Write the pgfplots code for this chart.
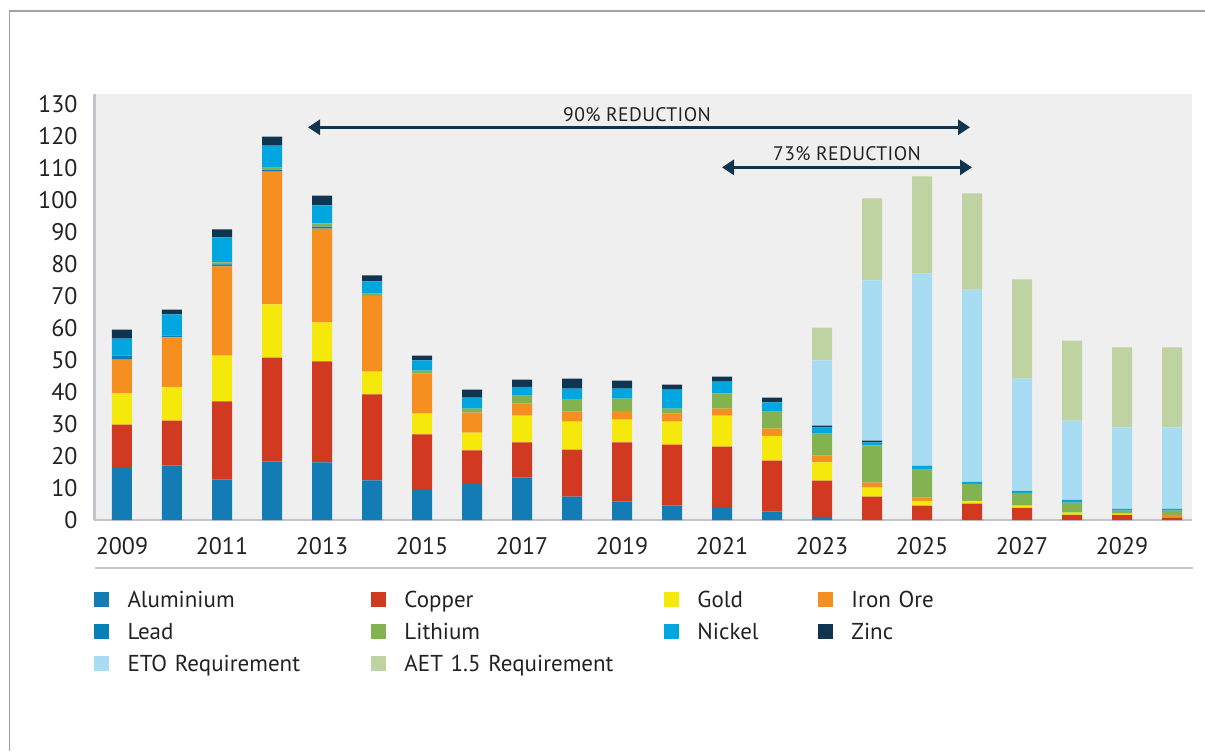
\documentclass[border=0pt]{standalone}
\usepackage{pgfplots}
\pgfplotsset{compat=1.18}
\usepackage{pgfplotstable}
\usetikzlibrary{arrows.meta}
\usepackage{fontspec}
\setmainfont{PT Sans}

\definecolor{alc}{HTML}{137CB4}
\definecolor{cuc}{HTML}{D13A20}
\definecolor{auc}{HTML}{F5E90B}
\definecolor{fec}{HTML}{F58F1F}
\definecolor{pbc}{HTML}{0681B8}
\definecolor{lic}{HTML}{83B350}
\definecolor{nic}{HTML}{00A6E0}
\definecolor{znc}{HTML}{0F3550}
\definecolor{etoc}{HTML}{A8DCF3}
\definecolor{aetc}{HTML}{BFD3A2}
\definecolor{bgc}{HTML}{EFEFEF}
\definecolor{axc}{HTML}{C3C3CE}
\definecolor{framec}{HTML}{A0A0A0}
\definecolor{textc}{HTML}{222222}
\definecolor{arrc}{HTML}{0F3550}

\pgfplotstableread{
year al cu au fe pb li ni zn eto aet
2009 16.3 13.5 9.7 10.6 1.2 0 5.3 2.8 0 0
2010 17.0 14.0 10.6 15.4 0.6 0 6.6 1.5 0 0
2011 12.6 24.4 14.3 27.9 0.6 0.6 7.8 2.5 0 0
2012 18.2 32.5 16.6 41.5 0.6 0.6 6.9 2.8 0 0
2013 18.0 31.5 12.2 29.3 0.6 1.0 5.6 3.1 0 0
2014 12.4 26.8 7.1 23.6 0 0.8 3.8 1.9 0 0
2015 9.3 17.4 6.5 12.5 0 0.9 3.2 1.5 0 0
2016 11.3 10.4 5.6 6.2 0 1.3 3.4 2.5 0 0
2017 13.2 11.0 8.4 3.7 0 2.5 2.8 2.2 0 0
2018 7.3 14.7 8.7 3.1 0 3.8 3.4 3.1 0 0
2019 5.7 18.5 7.1 2.8 0 3.8 3.1 2.5 0 0
2020 4.5 19.0 7.2 2.5 0 1.6 5.9 1.6 0 0
2021 3.8 19.1 9.7 2.2 0 4.7 3.7 1.6 0 0
2022 2.6 15.9 7.8 2.2 0 5.3 2.9 1.5 0 0
2023 1.0 11.3 5.7 2.2 0 6.8 1.9 0.6 20.3 10.3
2024 0 7.3 2.8 1.6 0 11.6 0.9 0.6 50.0 25.6
2025 0 4.5 1.5 1.0 0 8.7 1.3 0 60.0 30.3
2026 0 5.1 0.9 0 0 5.3 0.6 0 60.0 30.1
2027 0 3.8 0.7 0 0 4.0 0.6 0 35.0 31.0
2028 0 1.6 0.7 0 0 3.1 0.9 0 24.7 25.0
2029 0 1.6 0.4 0 0 0.9 0.6 0 25.4 25.0
2030 0 0.7 0 0.9 0 1.3 0.6 0 25.4 25.0
}\data

\begin{document}
\begin{tikzpicture}[x=1pt,y=1pt]
\useasboundingbox (0,0) rectangle (602.5,375.5);
\draw[color=framec, line width=0.6pt] (4.75,0) -- (4.75,370) -- (602.5,370);
\draw[color=axc, line width=1.1pt] (47.25,91.5) -- (596.5,91.5);
\begin{axis}[
  at={(47.25pt,115.5pt)}, anchor=south west,
  scale only axis, width=548.75pt, height=213pt,
  ybar stacked, bar width=0.4,
  xmin=2008.45, xmax=2030.4, ymin=0, ymax=133,
  axis lines*=left,
  axis line style={draw=axc, line width=1.1pt, -},
  axis background/.style={fill=bgc},
  major tick length=0pt,
  xtick={2009,2011,2013,2015,2017,2019,2021,2023,2025,2027,2029},
  xticklabels={2009,2011,2013,2015,2017,2019,2021,2023,2025,2027,2029},
  ytick={0,10,...,130},
  /pgf/number format/assume math mode=true,
  ticklabel style={font=\fontsize{12}{14}\selectfont, color=textc},
  yticklabel style={xshift=-5pt},
  xticklabel style={yshift=-5pt},
  legend image code/.code={\fill[#1,draw=none] (0pt,0pt) rectangle (7.5pt,7.5pt);},
  legend columns=4,
  legend style={
    at={(rel axis cs:0,0)}, anchor=north west, yshift=-34.5pt,
    draw=none, fill=none, inner sep=0pt, outer sep=0pt,
    font=\fontsize{11.5}{13}\selectfont, text=textc,
    column sep=0pt, row sep=4pt,
    /tikz/every odd column/.append style={column sep=9pt},
    /tikz/column 2/.style={text width=122pt},
    /tikz/column 4/.style={text width=130pt},
    /tikz/column 6/.style={text width=60.5pt},
    /tikz/column 8/.style={text width=80pt},
    nodes={inner sep=0pt, text height=9pt, text depth=3pt, anchor=base west},
  },
  legend cell align=left,
]
\addplot[fill=alc, draw=none] table[x=year, y=al] {\data};
\addplot[fill=cuc, draw=none] table[x=year, y=cu] {\data};
\addplot[fill=auc, draw=none] table[x=year, y=au] {\data};
\addplot[fill=fec, draw=none] table[x=year, y=fe] {\data};
\addplot[fill=pbc, draw=none] table[x=year, y=pb] {\data};
\addplot[fill=lic, draw=none] table[x=year, y=li] {\data};
\addplot[fill=nic, draw=none] table[x=year, y=ni] {\data};
\addplot[fill=znc, draw=none] table[x=year, y=zn] {\data};
\addplot[fill=etoc, draw=none] table[x=year, y=eto] {\data};
\addplot[fill=aetc, draw=none] table[x=year, y=aet] {\data};
\legend{Aluminium, Copper, Gold, Iron Ore, Lead, Lithium, Nickel, Zinc, ETO Requirement, AET 1.5 Requirement}
\draw[arrc, line width=1.4pt, {Triangle[length=6pt,width=7.5pt]}-{Triangle[length=6pt,width=7.5pt]}] (axis cs:2012.72,122.6) -- (axis cs:2025.96,122.6);
\node[font=\fontsize{9.8}{11}\selectfont\addfontfeature{LetterSpace=2}, text=textc] at (axis cs:2019.3,126.6) {90\% REDUCTION};
\draw[arrc, line width=1.4pt, {Triangle[length=6pt,width=7.5pt]}-{Triangle[length=6pt,width=7.5pt]}] (axis cs:2021.0,110.1) -- (axis cs:2026.0,110.1);
\node[font=\fontsize{9.8}{11}\selectfont\addfontfeature{LetterSpace=2}, text=textc] at (axis cs:2023.5,114.4) {73\% REDUCTION};
\end{axis}
\end{tikzpicture}
\end{document}
